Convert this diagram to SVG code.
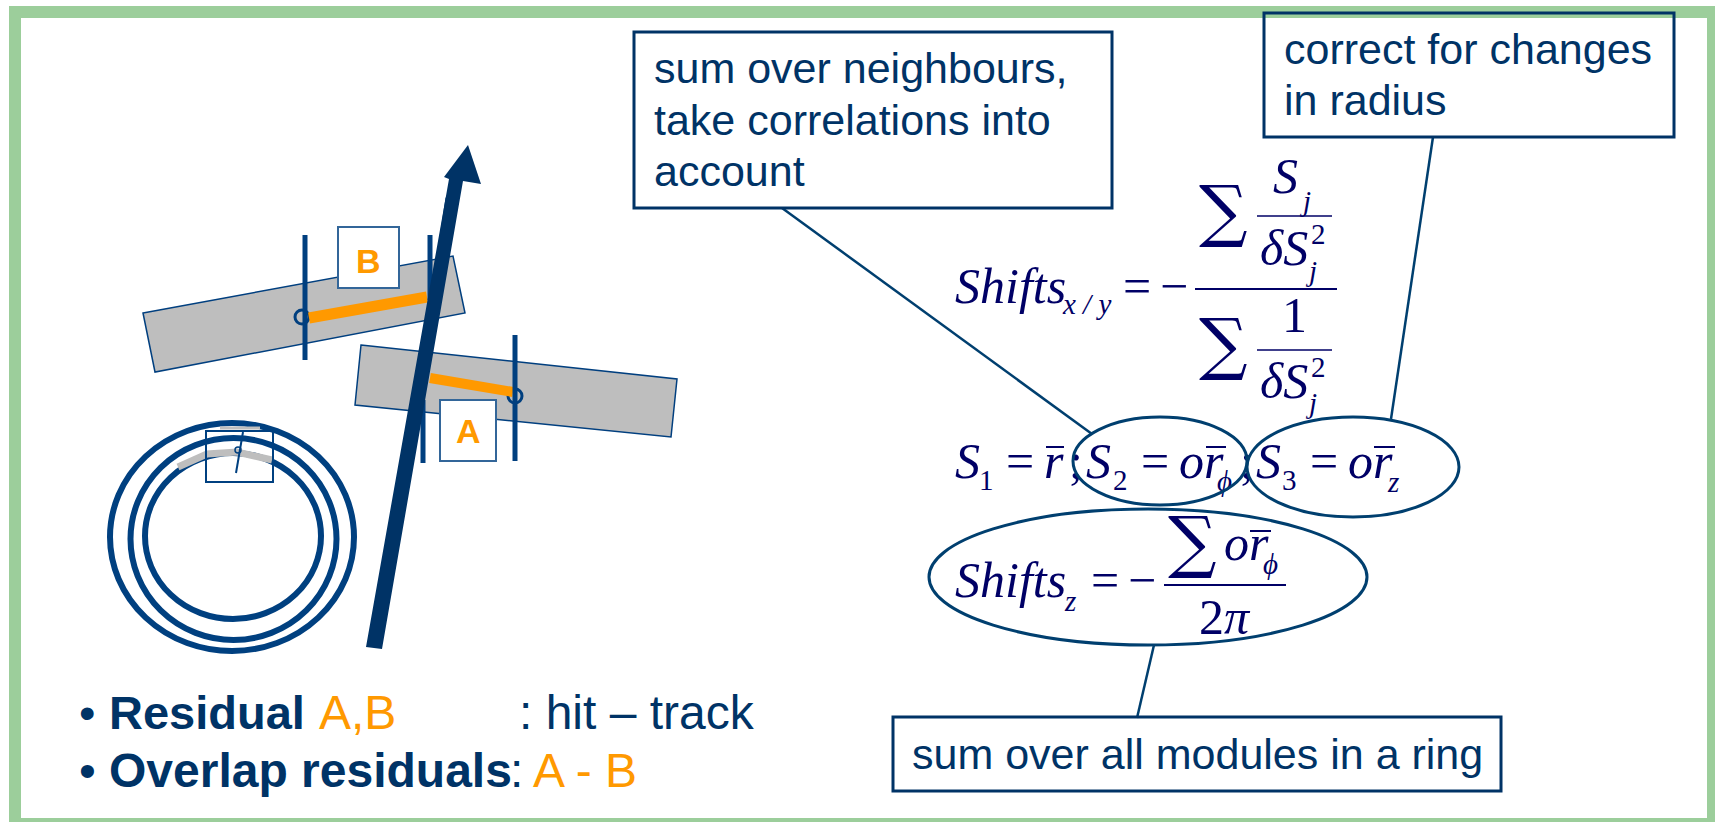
<svg xmlns="http://www.w3.org/2000/svg" width="1715" height="822" viewBox="0 0 1715 822">
<style>
.t{font-family:"Liberation Sans",Arial,sans-serif;fill:#003366}
.box{fill:none;stroke:#003366;stroke-width:3}
.con{stroke:#003f6f;stroke-width:2.5;fill:none}
.ell{stroke:#003f6f;stroke-width:3;fill:none}
.m{font-family:"Liberation Serif","Times New Roman",serif;fill:#000066;font-style:italic;font-size:50px}
.r{font-style:normal}
.s{font-size:29px}
.sg{font-family:"DejaVu Serif",serif;fill:#000066;font-size:68px;font-style:normal}
.bar{stroke:#000066;fill:none}
.ring{fill:none;stroke:#004080;stroke-width:6}
.mod{fill:#bebebe;stroke:#003f7f;stroke-width:1.5}
.v{stroke:#003f7f;stroke-width:5;fill:none}
.lb{fill:#FF9900;font-family:"Liberation Sans",Arial,sans-serif;font-weight:700;font-size:34px}
</style>
<rect x="15" y="12" width="1698" height="812" fill="#fff" stroke="#9CCE9B" stroke-width="12"/>
<g id="rings">
<ellipse class="ring" cx="232" cy="537" rx="122" ry="114"/>
<ellipse class="ring" cx="233.500" cy="539" rx="103" ry="101"/>
<ellipse class="ring" cx="233" cy="536" rx="88" ry="83"/>
<path d="M220 428H260" stroke="#bebebe" stroke-width="3" fill="none"/>
<polyline points="178,467 207,454 237,452 272,460" fill="none" stroke="#bebebe" stroke-width="7"/>
<rect x="206" y="431" width="67" height="51" fill="none" stroke="#004080" stroke-width="2"/>
<line x1="236" y1="473" x2="243" y2="432" stroke="#004080" stroke-width="2"/>
<circle cx="238" cy="450" r="3" fill="none" stroke="#004080" stroke-width="1.500"/>
</g>
<g id="module-b">
<polygon class="mod" points="143,313 453,256 465,313 155,372"/>
<circle cx="302" cy="317" r="7" fill="none" stroke="#003f7f" stroke-width="3"/>
<line x1="309" y1="318" x2="427" y2="297" stroke="#FF9900" stroke-width="11"/>
<line class="v" x1="305" y1="235" x2="305" y2="360"/>
<line class="v" x1="430" y1="235" x2="430" y2="300"/>
<rect x="338" y="227" width="61" height="61" fill="#fff" stroke="#336699" stroke-width="2"/>
<text class="lb" x="356" y="273">B</text>
</g>
<g id="module-a">
<polygon class="mod" points="361,345 677,379 671,437 355,405"/>
<circle cx="515" cy="396" r="7" fill="none" stroke="#003f7f" stroke-width="3"/>
<line x1="430" y1="378" x2="513" y2="392" stroke="#FF9900" stroke-width="10"/>
<line class="v" x1="515" y1="335" x2="515" y2="461"/>
<line class="v" x1="423" y1="400" x2="423" y2="463"/>
<rect x="440" y="400" width="56" height="61" fill="#fff" stroke="#336699" stroke-width="2"/>
<text class="lb" x="456" y="443">A</text>
</g>
<g id="track">
<line x1="449" y1="198" x2="415" y2="420" stroke="#004080" stroke-width="7"/>
<polygon points="366,647 382,649 463,181 481,184 468,145 444,177 449,179" fill="#003366"/>
</g>
<g id="connectors">
<line class="con" x1="782" y1="208" x2="1092" y2="434"/>
<line class="con" x1="1433" y1="137" x2="1391" y2="419"/>
<line class="con" x1="1154" y1="645" x2="1137" y2="718"/>
</g>
<g id="box-neighbours">
<rect class="box" x="634" y="32" width="478" height="176"/>
<text class="t" font-size="43"><tspan x="654" y="83">sum over neighbours,</tspan><tspan x="654" y="135">take correlations into</tspan><tspan x="654" y="186">account</tspan></text>
</g>
<g id="box-radius">
<rect class="box" x="1264" y="13" width="410" height="124"/>
<text class="t" font-size="43"><tspan x="1284" y="64">correct for changes</tspan><tspan x="1284" y="115">in radius</tspan></text>
</g>
<g id="box-ring">
<rect class="box" x="893" y="717" width="608" height="74"/>
<text class="t" x="912" y="769" font-size="43">sum over all modules in a ring</text>
</g>
<g id="formula-shifts-xy">
<text class="m" x="955" y="303">Shifts</text>
<text class="m s" x="1063" y="314">x / y</text>
<text class="m r" x="1123" y="303">=</text>
<text class="m r" x="1160" y="303">−</text>
<line class="bar" x1="1195" y1="289" x2="1337" y2="289" stroke-width="2"/>
<text class="sg" x="1199" y="234">∑</text>
<text class="m" x="1273" y="193">S</text>
<text class="m s" x="1303" y="211">j</text>
<line class="bar" x1="1257" y1="216" x2="1332" y2="216" stroke-width="1.500"/>
<text class="m" x="1260" y="265">δS</text>
<text class="m r s" x="1311" y="244">2</text>
<text class="m s" x="1309" y="281">j</text>
<text class="sg" x="1199" y="367">∑</text>
<text class="m r" x="1282" y="332">1</text>
<line class="bar" x1="1257" y1="350" x2="1332" y2="350" stroke-width="1.500"/>
<text class="m" x="1260" y="398">δS</text>
<text class="m r s" x="1311" y="377">2</text>
<text class="m s" x="1309" y="413">j</text>
</g>
<g id="formula-s">
<text class="m" x="955" y="478">S</text>
<text class="m r s" x="979" y="490">1</text>
<text class="m r" x="1006" y="478">=</text>
<text class="m" x="1044" y="478">r</text>
<line class="bar" x1="1046" y1="447" x2="1064" y2="447" stroke-width="2"/>
<text class="m r" x="1069" y="478">;</text>
<text class="m" x="1086" y="478">S</text>
<text class="m r s" x="1113" y="490">2</text>
<text class="m r" x="1141" y="478">=</text>
<text class="m" x="1179" y="478">o</text>
<text class="m" x="1204" y="478">r</text>
<line class="bar" x1="1206" y1="447" x2="1226" y2="447" stroke-width="2"/>
<text class="m s" x="1217" y="491">ϕ</text>
<text class="m r" x="1240" y="478">;</text>
<text class="m" x="1256" y="478">S</text>
<text class="m r s" x="1282" y="490">3</text>
<text class="m r" x="1310" y="478">=</text>
<text class="m" x="1348" y="478">o</text>
<text class="m" x="1373" y="478">r</text>
<line class="bar" x1="1374" y1="447" x2="1395" y2="447" stroke-width="2"/>
<text class="m s" x="1388" y="492">z</text>
</g>
<g id="formula-shifts-z">
<text class="m" x="955" y="597">Shifts</text>
<text class="m s" x="1065" y="611">z</text>
<text class="m r" x="1091" y="597">=</text>
<text class="m r" x="1128" y="597">−</text>
<line class="bar" x1="1164" y1="585" x2="1286" y2="585" stroke-width="2"/>
<text class="sg" x="1168" y="565">∑</text>
<text class="m" x="1224" y="560">o</text>
<text class="m" x="1249" y="560">r</text>
<line class="bar" x1="1250" y1="531" x2="1271" y2="531" stroke-width="2"/>
<text class="m s" x="1263" y="574">ϕ</text>
<text class="m r" x="1199" y="634">2</text>
<text class="m" x="1224" y="634">π</text>
</g>
<g id="ellipses">
<ellipse class="ell" cx="1160" cy="461" rx="87" ry="44"/>
<ellipse class="ell" cx="1353" cy="467" rx="106" ry="50"/>
<ellipse class="ell" cx="1148" cy="577" rx="219" ry="68"/>
</g>
<g id="legend">
<text class="t" font-size="47" y="729"><tspan x="79">• </tspan><tspan x="109" font-weight="700">Residual</tspan><tspan x="319" fill="#FF9900" font-size="48">A,B</tspan><tspan x="519" font-size="48">: hit – track</tspan></text>
<text class="t" font-size="48" y="787"><tspan x="79">• </tspan><tspan x="109" font-weight="700">Overlap residuals</tspan><tspan x="510">:</tspan><tspan x="533" fill="#FF9900">A - B</tspan></text>
</g>
</svg>
